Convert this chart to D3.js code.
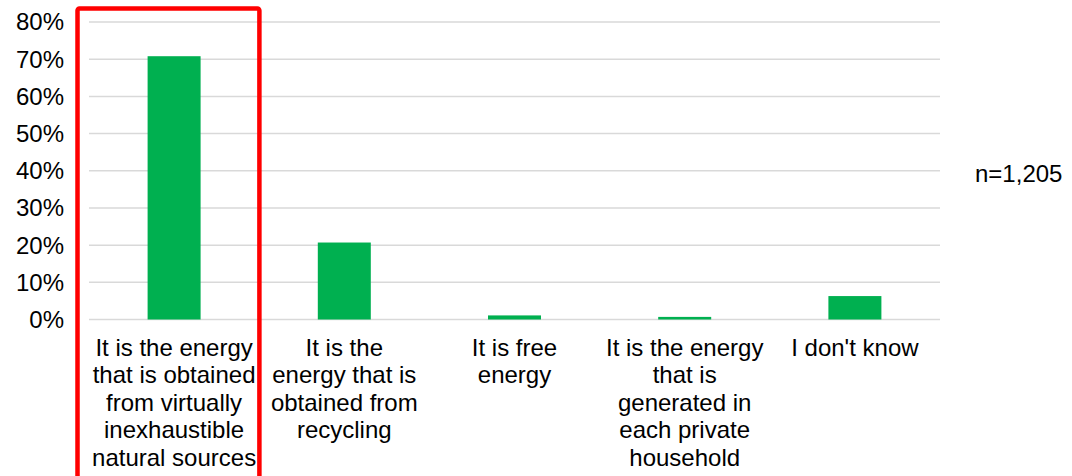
<!DOCTYPE html>
<html><head><meta charset="utf-8">
<script src="https://cdn.jsdelivr.net/npm/d3@7"></script>
<style>body{margin:0;background:#fff}svg{display:block}text{font-family:"Liberation Sans",Arial,sans-serif;fill:#000}</style>
</head><body>
<svg id="c" width="1072" height="476"></svg>
<script>
const categories = [
  ["It is the energy","that is obtained","from virtually","inexhaustible","natural sources"],
  ["It is the","energy that is","obtained from","recycling"],
  ["It is free","energy"],
  ["It is the energy","that is","generated in","each private","household"],
  ["I don't know"]
];
const values = [70.8, 20.7, 1.1, 0.7, 6.3];
const yTicks = [0,10,20,30,40,50,60,70,80];
const note = "n=1,205";

(function(){
const svg = d3.select("#c");
const mLeft = 89, mRight = 940, mTop = 22, mBottom = 319.5;
const fs = 24;
const x = d3.scaleBand().domain(d3.range(values.length)).range([mLeft, mRight]).paddingInner(0).paddingOuter(0);
const y = d3.scaleLinear().domain([0, 80]).range([mBottom, mTop]);

svg.append("g").selectAll("line").data(yTicks).join("line")
  .attr("x1", mLeft).attr("x2", mRight)
  .attr("y1", d => y(d)).attr("y2", d => y(d))
  .attr("stroke", "#d9d9d9").attr("stroke-width", 1.5);

svg.append("g").selectAll("text").data(yTicks).join("text")
  .attr("x", 64).attr("y", d => y(d)).attr("dy", "0.35em")
  .attr("text-anchor", "end").attr("font-size", fs)
  .text(d => d + "%");

const bw = 53;
svg.append("g").selectAll("rect").data(values).join("rect")
  .attr("x", (d, i) => x(i) + x.bandwidth() / 2 - bw / 2)
  .attr("width", bw)
  .attr("y", d => y(d))
  .attr("height", d => y(0) - y(d))
  .attr("fill", "#00b050");

const lab = svg.append("g");
categories.forEach((lines, i) => {
  const t = lab.append("text").attr("text-anchor", "middle").attr("font-size", fs);
  lines.forEach((ln, j) => {
    t.append("tspan").attr("x", x(i) + x.bandwidth() / 2).attr("y", 355.5 + j * 27.6).text(ln);
  });
});

svg.append("text").attr("x", 975).attr("y", 181.5).attr("font-size", fs).text(note);

const bx0 = x(0) - 11.5, bx1 = x(0) + x.bandwidth() + 0.2;
svg.append("rect")
  .attr("x", bx0).attr("y", 8.5)
  .attr("width", bx1 - bx0)
  .attr("height", 480)
  .attr("rx", 2)
  .attr("fill", "none").attr("stroke", "#ff0000").attr("stroke-width", 4.5);
})();
</script>
</body></html>
